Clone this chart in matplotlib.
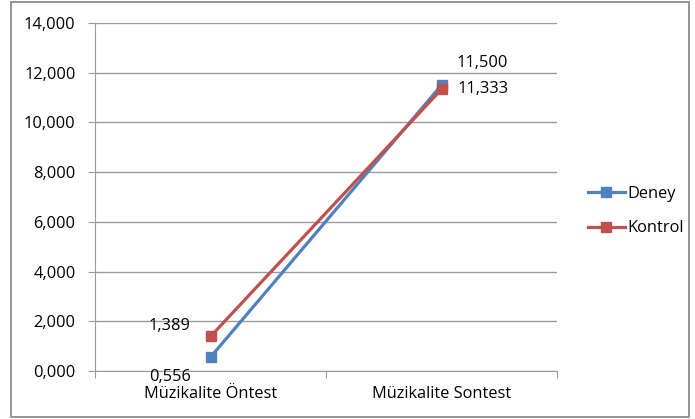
import matplotlib
matplotlib.use("Agg")
import matplotlib.pyplot as plt
from matplotlib.patches import Rectangle
from matplotlib.ticker import FuncFormatter, MultipleLocator

plt.rcParams['font.family'] = ['Open Sans', 'DejaVu Sans']

categories = ["Müzikalite Öntest", "Müzikalite Sontest"]
deney = [0.556, 11.500]
kontrol = [1.389, 11.333]
series_names = ["Deney", "Kontrol"]
y_max = 14

blue = "#4F81BD"
red = "#C0504D"
grid_c = "#9A9A9A"
fs = 11.8

W, H = 695, 419
fig = plt.figure(figsize=(W / 100, H / 100), dpi=100)

# outer chart frame
fig.patches.append(Rectangle((11 / W, 2 / H), 678 / W, 415 / H, transform=fig.transFigure,
                             fill=False, edgecolor="#8C8C8C", linewidth=1.3))

left, right, top, bottom = 95, 557, 23, 371
ax = fig.add_axes([left / W, 1 - bottom / H, (right - left) / W, (bottom - top) / H])


def fmt(v):
    return f"{v:.3f}".replace(".", ",")


x = [0.5, 1.5]
ax.set_xlim(0, 2)
ax.set_ylim(0, y_max)
ax.yaxis.set_major_locator(MultipleLocator(2))
ax.yaxis.set_major_formatter(FuncFormatter(lambda v, p: fmt(v)))
ax.grid(axis="y", color=grid_c, linewidth=1)
ax.set_axisbelow(True)
for s in ["top", "right"]:
    ax.spines[s].set_visible(False)
for s in ["left", "bottom"]:
    ax.spines[s].set_color(grid_c)
ax.set_xticks([0, 1, 2])
ax.set_xticklabels([])
ax.set_xticks(x, minor=True)
ax.set_xticklabels(categories, minor=True, fontsize=fs)
ax.tick_params(axis="x", which="major", length=5, color=grid_c, direction="out")
ax.tick_params(axis="x", which="minor", length=0, pad=11)
ax.tick_params(axis="y", length=5, color=grid_c, labelsize=fs, pad=9)

l1, = ax.plot(x, deney, color=blue, linewidth=2.3, marker="s", markersize=7,
              markeredgecolor=blue, label=series_names[0], clip_on=False, zorder=3)
l2, = ax.plot(x, kontrol, color=red, linewidth=2.3, marker="s", markersize=7,
              markeredgecolor=red, label=series_names[1], clip_on=False, zorder=4)

ax.annotate(fmt(deney[0]), (x[0], deney[0]), xytext=(-29, -14), textcoords="offset points",
            ha="center", va="center", fontsize=fs)
ax.annotate(fmt(kontrol[0]), (x[0], kontrol[0]), xytext=(-29.5, 7.5), textcoords="offset points",
            ha="center", va="center", fontsize=fs)
ax.annotate(fmt(deney[1]), (x[1], deney[1]), xytext=(29, 16), textcoords="offset points",
            ha="center", va="center", fontsize=fs)
ax.annotate(fmt(kontrol[1]), (x[1], kontrol[1]), xytext=(30, 0), textcoords="offset points",
            ha="center", va="center", fontsize=fs)

fig.legend(handles=[l1, l2], loc="center left", bbox_to_anchor=(581 / W, 1 - 211 / H),
           frameon=False, fontsize=fs, handlelength=2.3, handletextpad=0.12,
           labelspacing=1.15, borderaxespad=0)

fig.savefig("out.png", dpi=100)
